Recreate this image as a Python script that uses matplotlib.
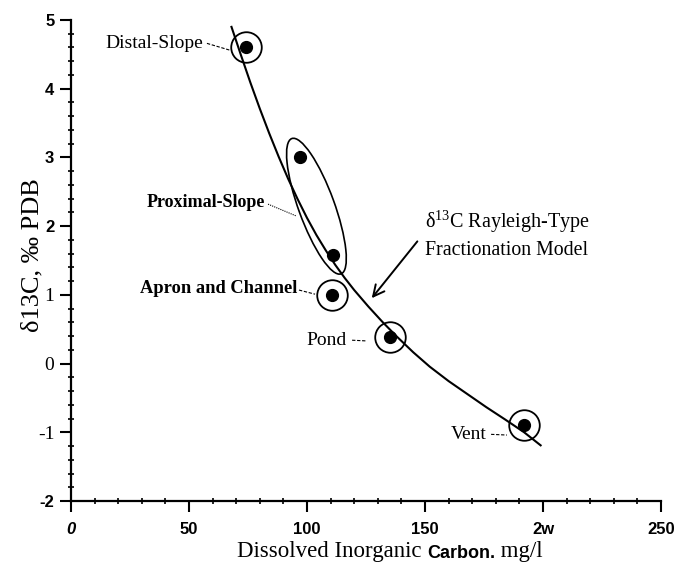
import matplotlib
matplotlib.use("Agg")
import matplotlib.pyplot as plt
import matplotlib.transforms as mtransforms
from matplotlib.patches import Ellipse
from matplotlib.offsetbox import TextArea, HPacker, AnnotationBbox
from matplotlib.ticker import MultipleLocator

plt.rcParams['mathtext.default'] = 'regular'

# ---- data ----
site_names = ["Distal-Slope", "Proximal-Slope", "Proximal-Slope", "Apron and Channel", "Pond", "Vent"]
dic_values = [74, 97, 111, 110.5, 135, 192]
d13c_values = [4.6, 3.0, 1.58, 1.0, 0.38, -0.9]
circled = [True, False, False, True, True, True]

model_dic = [68, 72, 76, 80, 84, 88, 92, 96, 100, 104, 108, 112, 116, 120, 126, 132, 138,
             145, 152, 160, 168, 176, 184, 192, 199]
model_d13c = [4.90, 4.49, 4.09, 3.71, 3.35, 3.01, 2.69, 2.395, 2.12, 1.87, 1.645, 1.435, 1.245,
              1.07, 0.83, 0.605, 0.395, 0.165, -0.045, -0.255, -0.445, -0.635, -0.815, -1.0, -1.19]

x_ticks = [0, 50, 100, 150, 200, 250]
x_tick_labels = ["0", "50", "100", "150", "2w", "250"]
y_ticks = [-2, -1, 0, 1, 2, 3, 4, 5]
y_tick_labels = ["-2", "-1", "0", "1", "2", "3", "4", "5"]

SERIF = "Liberation Serif"
SANS = "Liberation Sans"

fig = plt.figure(figsize=(6.78, 5.66), dpi=100)
ax = fig.add_axes([71/678, 1 - 501/566, (661 - 71)/678, (501 - 20)/566])
ax.set_xlim(0, 250)
ax.set_ylim(-2, 5)

for s in ("top", "right"):
    ax.spines[s].set_visible(False)
for s in ("left", "bottom"):
    ax.spines[s].set_linewidth(1.6)

ax.set_xticks(x_ticks)
ax.set_xticklabels(x_tick_labels)
ax.set_yticks(y_ticks)
ax.set_yticklabels(y_tick_labels)
ax.xaxis.set_minor_locator(MultipleLocator(10))
ax.yaxis.set_minor_locator(MultipleLocator(0.2))
ax.tick_params(which="major", direction="out", length=8, width=1.5, pad=7)
ax.tick_params(which="minor", direction="inout", length=5, width=1.2)
ax.tick_params(axis="y", which="major", pad=4)

for lbl in ax.get_xticklabels():
    lbl.set_fontfamily(SANS)
    lbl.set_fontweight("bold")
    lbl.set_fontsize(12)
    if lbl.get_text() == "0":
        lbl.set_fontstyle("italic")
for lbl in ax.get_yticklabels():
    t = lbl.get_text()
    if t in ("1", "0", "-1"):
        lbl.set_fontfamily(SERIF)
        lbl.set_fontsize(14)
    else:
        lbl.set_fontfamily(SANS)
        lbl.set_fontweight("bold")
        lbl.set_fontsize(12)

# model curve
ax.plot(model_dic, model_d13c, color="black", lw=1.5, zorder=3, solid_joinstyle="round")

# data points
ax.plot(dic_values, d13c_values, "o", color="black", ms=8.5, zorder=4)
cx = [x for x, c in zip(dic_values, circled) if c]
cy = [y for y, c in zip(d13c_values, circled) if c]
ax.plot(cx, cy, "o", mfc="none", mec="black", mew=1.3, ms=22, zorder=4)

# ellipse around proximal-slope points
px = [x for x, n in zip(dic_values, site_names) if n == "Proximal-Slope"]
py = [y for y, n in zip(d13c_values, site_names) if n == "Proximal-Slope"]
ecx, ecy = sum(px) / len(px), sum(py) / len(py)
etrans = fig.dpi_scale_trans + mtransforms.ScaledTranslation(ecx, ecy, ax.transData)
ax.add_patch(Ellipse((0, 0), 1.44, 0.36, angle=-70, transform=etrans,
                     fill=False, ec="black", lw=1.2, zorder=4))

# labels with leader lines
labels = [
    ("Distal-Slope", 55.9, 4.66, "normal", 14, (57.6, 4.66), (67.4, 4.56), (0, (3, 1.5))),
    ("Proximal-Slope", 82.2, 2.35, "bold", 13, (83.5, 2.32), (95.3, 2.15), (0, (1, 1))),
    ("Apron and Channel", 95.8, 1.09, "bold", 13.3, (96.6, 1.07), (103.4, 1.01), (0, (3, 1.5))),
    ("Pond", 117.0, 0.34, "normal", 14, (119.1, 0.34), (125.0, 0.33), (0, (3, 1.5))),
    ("Vent", 176.3, -1.03, "normal", 14, (178.0, -1.03), (184.7, -1.04), (0, (3, 1.5))),
]
for txt, tx, ty, fw, fs, p0, p1, ls in labels:
    ax.text(tx, ty, txt, ha="right", va="center", family=SERIF, fontweight=fw, fontsize=fs)
    ax.plot([p0[0], p1[0]], [p0[1], p1[1]], color="black", lw=0.8, ls=ls)

ax.text(150, 2.06, "δ$^{13}$C Rayleigh-Type", ha="left", va="center", family=SERIF, fontsize=14.5)
ax.text(150, 1.65, "Fractionation Model", ha="left", va="center", family=SERIF, fontsize=14.3)
ax.annotate("", xy=(126.7, 0.92), xytext=(147.5, 1.81),
            arrowprops=dict(arrowstyle="->,head_length=0.8,head_width=0.4", color="black", lw=1.4))

# axis labels
fig.text(32/678, 1 - 255/566, "δ13C, ‰ PDB", rotation=90, ha="center", va="center",
         family=SERIF, fontsize=19)
parts = [
    TextArea("Dissolved Inorganic ", textprops=dict(family=SERIF, fontsize=16.5)),
    TextArea("Carbon.", textprops=dict(family=SANS, fontweight="bold", fontsize=13)),
    TextArea(" mg/l", textprops=dict(family=SERIF, fontsize=16.5)),
]
pack = HPacker(children=parts, align="baseline", pad=0, sep=0)
ab = AnnotationBbox(pack, (390/678, 1 - 552/566), xycoords="figure fraction",
                    frameon=False, box_alignment=(0.5, 0.5))
fig.add_artist(ab)

fig.savefig("out.png", dpi=100)
